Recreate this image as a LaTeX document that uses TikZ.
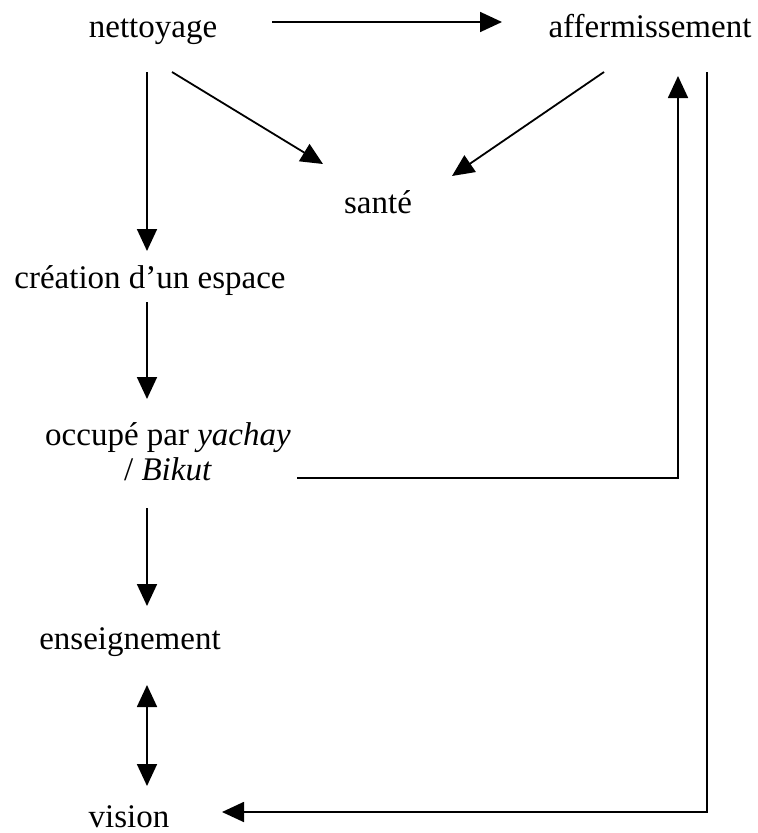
\documentclass[tikz,border=0pt]{standalone}
\usepackage{fontspec}
\setmainfont{Liberation Serif}
\usetikzlibrary{arrows.meta}
\begin{document}
\begin{tikzpicture}[x=1pt,y=-1pt,
  lbl/.style={font=\fontsize{33}{38}\selectfont, inner sep=0pt, anchor=base},
  arr/.style={line width=1.8pt, -{Triangle[length=22pt,width=20pt]}},
  dbl/.style={line width=1.8pt, {Triangle[length=22pt,width=20pt]}-{Triangle[length=22pt,width=20pt]}}]
\useasboundingbox (0,0) rectangle (758,833);
% texts
\node[lbl] (net) at (153,37) {nettoyage};
\node[lbl] (aff) at (650,37) {affermissement};
\node[lbl] (san) at (378,213) {santé};
\node[lbl] (cre) at (150,288) {création d’un espace};
\node[lbl] (occ) at (168,445) {occupé par \textit{yachay}};
\node[lbl] (bik) at (168,480) {/ \textit{Bikut}};
\node[lbl] (ens) at (130,649) {enseignement};
\node[lbl] (vis) at (129,827) {vision};
% connector end points
\coordinate (netR) at (272,22);
\coordinate (affL) at (502,22);
\coordinate (netD) at (147,72);
\coordinate (creU) at (147,251);
\coordinate (netDg) at (172,72);
\coordinate (sanL) at (323,164);
\coordinate (affDg) at (604,72);
\coordinate (sanR) at (452,176);
\coordinate (creD) at (147,302);
\coordinate (occU) at (147,399);
\coordinate (bikD) at (147,508);
\coordinate (ensU) at (147,606);
\coordinate (ensD) at (147,685);
\coordinate (visU) at (147,786);
\coordinate (bikR) at (297,478);
\coordinate (affB) at (678,76);
\coordinate (affB2) at (707,72);
\coordinate (visR) at (222,812);
% connectors
\draw[arr] (netR) -- (affL);
\draw[arr] (netD) -- (creU);
\draw[arr] (netDg) -- (sanL);
\draw[arr] (affDg) -- (sanR);
\draw[arr] (creD) -- (occU);
\draw[arr] (bikD) -- (ensU);
\draw[dbl] (ensD) -- (visU);
\draw[arr] (bikR) -| (affB);
\draw[arr] (affB2) |- (visR);
\end{tikzpicture}
\end{document}
